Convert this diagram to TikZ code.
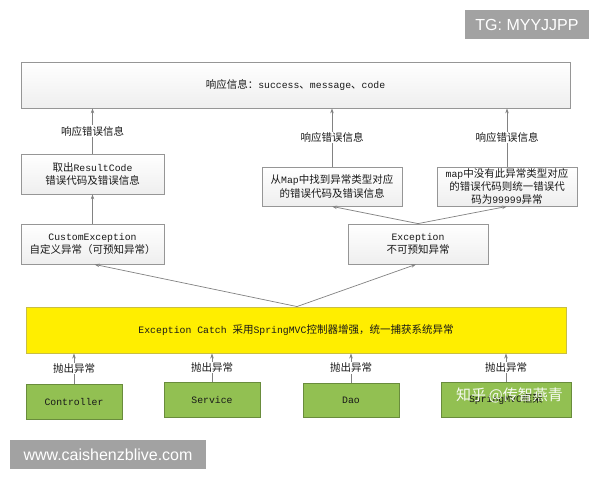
\documentclass[tikz,border=0pt]{standalone}
\usepackage{fontspec}
\setmainfont{Noto Sans CJK SC}
\setmonofont{Liberation Mono}
\newfontfamily\arialf{Liberation Sans}
\usetikzlibrary{arrows.meta,calc}
\newcommand\lat[1]{{\fontsize{9.8}{13.5}\selectfont\ttfamily #1}}
\definecolor{boxline}{RGB}{150,150,150}
\definecolor{conn}{RGB}{130,130,130}
\definecolor{yelfill}{RGB}{255,238,0}
\definecolor{yelline}{RGB}{200,190,70}
\definecolor{grnfill}{RGB}{146,192,82}
\definecolor{grnline}{RGB}{105,140,60}
\definecolor{wmgray}{RGB}{162,162,162}
\tikzset{
  base/.style={rectangle, inner sep=1pt, align=center, text=black!90,
    font=\fontsize{10.5}{13.5}\selectfont},
  graybox/.style={base, draw=boxline, line width=0.8pt, top color=white, bottom color=gray!13},
  yelbox/.style={base, draw=yelline, line width=0.9pt, fill=yelfill},
  grnbox/.style={base, draw=grnline, line width=0.9pt, fill=grnfill},
  wmbox/.style={rectangle, fill=wmgray, text=white, inner sep=0pt,
    font=\arialf\fontsize{16}{18}\selectfont},
  conn/.style={draw=conn, line width=0.7pt, -{Stealth[length=5pt,width=3.5pt]}},
  lbl/.style={base, fill=white, inner sep=1pt}
}
\begin{document}
\begin{tikzpicture}[x=1pt,y=-1pt]
\useasboundingbox (0,0) rectangle (600,480);
\fill[white] (0,0) rectangle (600,480);

% boxes
\node[graybox, minimum width=549pt, minimum height=46pt] (top) at (295.5,85) {响应信息：\lat{success}、\lat{message}、\lat{code}};
\node[graybox, minimum width=143pt, minimum height=40pt] (rc) at (92.5,174) {取出\lat{ResultCode}\\错误代码及错误信息};
\node[graybox, minimum width=140pt, minimum height=39pt] (mapa) at (332,186.5) {从\lat{Map}中找到异常类型对应\\的错误代码及错误信息};
\node[graybox, minimum width=140pt, minimum height=39pt, font=\fontsize{10.5}{12.6}\selectfont] (mapb) at (507,186.5) {\lat{map}中没有此异常类型对应\\的错误代码则统一错误代\\码为\lat{99999}异常};
\node[graybox, minimum width=143pt, minimum height=40pt] (cust) at (92.5,244) {\lat{CustomException}\\自定义异常（可预知异常）};
\node[graybox, minimum width=140pt, minimum height=40pt] (exc) at (418,244) {\lat{Exception}\\不可预知异常};
\node[yelbox, minimum width=540pt, minimum height=46pt] (yel) at (296,330) {\lat{Exception Catch }采用\lat{SpringMVC}控制器增强，统一捕获系统异常};
\node[grnbox, minimum width=96pt, minimum height=35pt] (ctrl) at (74,401.5) {\lat{Controller}};
\node[grnbox, minimum width=96pt, minimum height=35pt] (serv) at (212,399.5) {\lat{Service}};
\node[grnbox, minimum width=96pt, minimum height=34pt] (dao) at (351,400) {\lat{Dao}};
\node[grnbox, minimum width=130pt, minimum height=35pt] (spr) at (506,399.5) {\lat{SpringMVC}框架};

% upper connectors
\draw[conn] (rc.north) -- node[lbl] (la) {响应错误信息} (rc.north |- top.south);
\draw[conn] (mapa.north) -- node[lbl] (lb) {响应错误信息} (mapa.north |- top.south);
\draw[conn] (mapb.north) -- node[lbl] (lc) {响应错误信息} (mapb.north |- top.south);
\draw[conn] (cust.north) -- (rc.south);
\draw[conn] (exc.north) -- (mapa.south);
\draw[conn] (exc.north) -- (mapb.south);
\coordinate (ytop) at ($(yel.north)+(1,0)$);
\draw[conn] (ytop) -- ($(cust.south)+(2,0)$);
\draw[conn] (ytop) -- ($(exc.south)+(-2,0)$);

% lower connectors
\draw[conn] (ctrl.north) -- node[lbl] (l1) {抛出异常} (ctrl.north |- yel.south);
\draw[conn] (serv.north) -- node[lbl] (l2) {抛出异常} (serv.north |- yel.south);
\draw[conn] (dao.north) -- node[lbl] (l3) {抛出异常} (dao.north |- yel.south);
\draw[conn] (spr.north) -- node[lbl] (l4) {抛出异常} (spr.north |- yel.south);

% watermarks
\node[wmbox, minimum width=124pt, minimum height=29pt] (tg) at (527,24.5) {TG: MYYJJPP};
\node[wmbox, minimum width=196pt, minimum height=29pt] (www) at (108,454.5) {www.caishenzblive.com};
\node[text=white, opacity=0.92, font=\fontsize{15}{17}\selectfont, inner sep=0pt, anchor=west] (zh) at (456,395) {知乎\,@传智燕青};
\end{tikzpicture}
\end{document}
